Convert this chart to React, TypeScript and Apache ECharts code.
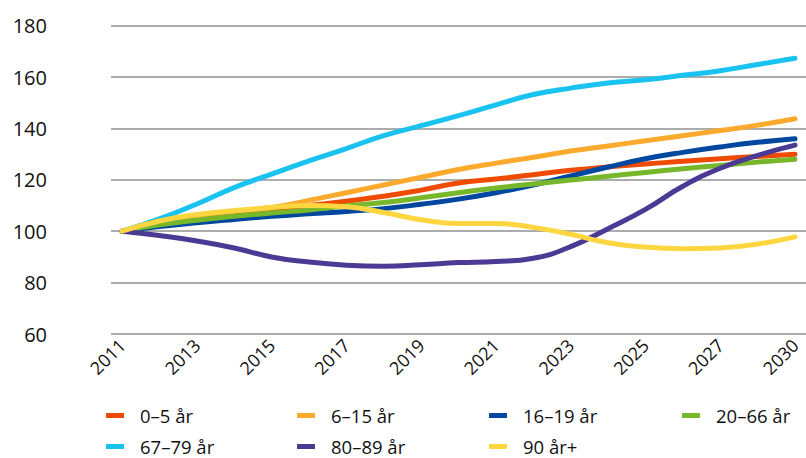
import { useEffect, useRef } from "react";
import * as echarts from "echarts";

// Categories (19 points; the last one is labelled 2030 in the reference)
const years = [
  "2011", "2012", "2013", "2014", "2015", "2016", "2017", "2018", "2019", "2020",
  "2021", "2022", "2023", "2024", "2025", "2026", "2027", "2028", "2030",
];

const seriesNames = ["0–5 år", "6–15 år", "16–19 år", "20–66 år", "67–79 år", "80–89 år", "90 år+"];

const age0to5 = [100, 103, 105, 107, 108.5, 110, 111.7, 113.6, 116, 118.8, 120.3, 122, 123.7, 125, 126.2, 127.2, 128.2, 129.1, 130];
const age6to15 = [100, 103.5, 106, 107.8, 109.2, 112, 115, 118, 121, 124, 126.5, 128.8, 131.2, 133.2, 135.2, 137.2, 139.2, 141.3, 143.8];
const age16to19 = [100, 101.8, 103.3, 104.6, 105.8, 106.8, 107.7, 108.8, 110.5, 112.5, 115, 118, 121.5, 125, 128.2, 130.7, 132.8, 134.6, 136];
const age20to66 = [100, 102.5, 104.3, 105.8, 107.1, 108.3, 109.8, 111.2, 113, 115, 116.8, 118.4, 119.9, 121.4, 122.9, 124.3, 125.6, 126.9, 128];
const age67to79 = [100, 104.8, 110.6, 117, 122.2, 127.4, 132.2, 137.2, 141.1, 145, 149.2, 153.2, 155.7, 157.7, 159, 160.7, 162.5, 164.9, 167.3];
const age80to89 = [100, 98.3, 96.2, 93.5, 90, 88, 86.8, 86.4, 87, 87.8, 88.2, 89.5, 94, 101, 108.5, 117.5, 124.5, 129.5, 133.5];
const age90plus = [100, 104, 106.5, 108, 109.2, 110, 109.5, 107.3, 104.5, 103, 103, 101.5, 98.8, 95.5, 93.8, 93.2, 93.5, 95, 97.8];

const seriesValues = [age0to5, age6to15, age16to19, age20to66, age67to79, age80to89, age90plus];
const colors = ["#EE4B00", "#FBAA2D", "#0047A0", "#76B82A", "#1AC2F0", "#4A3A93", "#FFD540"];

const yMin = 60;
const yMax = 180;
const yStep = 20;

export default function App() {
  const ref = useRef<HTMLDivElement>(null);

  useEffect(() => {
    if (!ref.current) return;
    const chart = echarts.init(ref.current, undefined, { renderer: "svg" });
    const font = "Open Sans";
    const textColor = "#111111";
    const top = 25.7;
    const height = 308.3;

    const legendPos = [
      [106, 406], [297, 406], [489, 406], [682, 406],
      [106, 437], [297, 437], [489, 437],
    ];

    const option: any = {
      animation: false,
      color: colors,
      grid: [
        { left: 111, right: 0, top, height },
        { left: 122, right: 11, top, height },
      ],
      xAxis: [
        { type: "category", gridIndex: 0, data: years, show: false, boundaryGap: false },
        {
          type: "category",
          gridIndex: 1,
          data: years,
          boundaryGap: false,
          axisLine: { show: false },
          axisTick: { show: false },
          axisLabel: {
            interval: 1,
            rotate: 45,
            margin: 8,
            fontSize: 18,
            fontWeight: 500,
            fontFamily: font,
            color: textColor,
          },
        },
      ],
      yAxis: [
        {
          type: "value",
          gridIndex: 0,
          min: yMin,
          max: yMax,
          interval: yStep,
          axisLine: { show: false },
          axisTick: { show: false },
          splitLine: { lineStyle: { color: "#ABADAD", width: 2 } },
          axisLabel: { margin: 64, fontSize: 20, fontWeight: 500, fontFamily: font, color: textColor },
        },
        {
          type: "value",
          gridIndex: 1,
          min: yMin,
          max: yMax,
          interval: yStep,
          show: false,
          splitLine: { show: false },
        },
      ],
      legend: seriesNames.map((name, i) => ({
        data: [name],
        left: legendPos[i][0],
        top: legendPos[i][1],
        padding: 0,
        icon: "rect",
        itemWidth: 18,
        itemHeight: 5,
        selectedMode: false,
        textStyle: {
          fontSize: 18.5,
          fontWeight: 500,
          fontFamily: font,
          color: textColor,
          padding: [0, 0, 0, 11],
          lineHeight: 16,
        },
      })),
      series: seriesNames.map((name, i) => ({
        name,
        type: "line",
        xAxisIndex: 1,
        yAxisIndex: 1,
        data: seriesValues[i],
        smooth: true,
        showSymbol: false,
        symbol: "none",
        lineStyle: { width: 5, color: colors[i], cap: "round", join: "round" },
        itemStyle: { color: colors[i] },
      })),
    };
    chart.setOption(option);
    return () => chart.dispose();
  }, []);

  return (
    <div
      ref={ref}
      style={{ position: "fixed", left: 0, top: 0, width: 806, height: 458, background: "#fff" }}
    />
  );
}
